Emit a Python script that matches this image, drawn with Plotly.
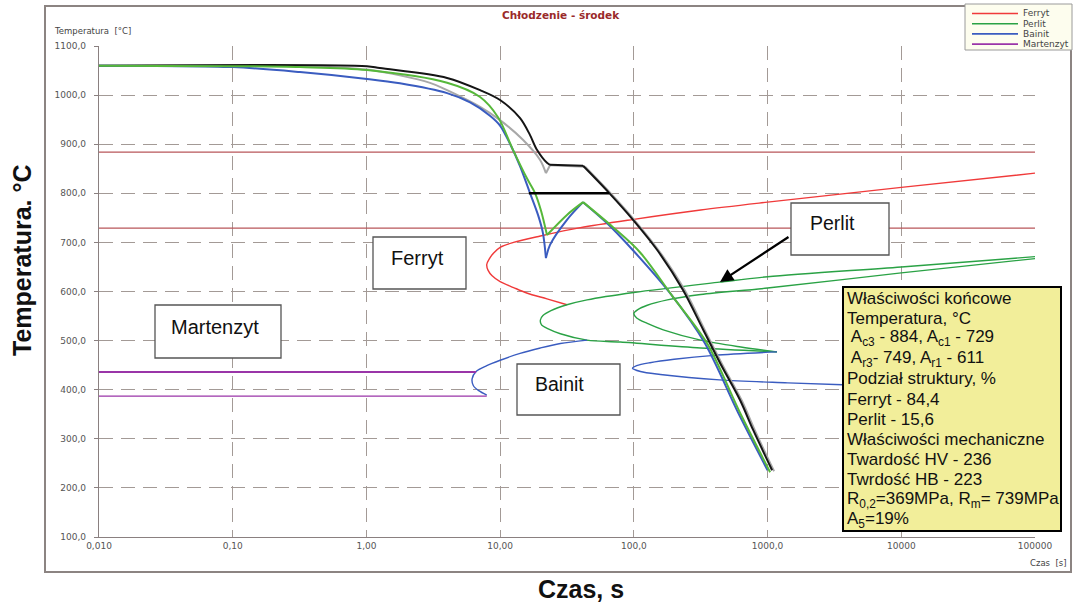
import plotly.graph_objects as go

# ---------------- data (time in s, temperature in deg C) ----------------
AC_LINES_T = [0.01, 100000]
AC3 = [884, 884]
AC1 = [729, 729]

FERRYT_T = [100000, 10000, 1000, 316, 100, 39.8, 20.0, 12.6, 10.0, 8.91, 8.32, 7.94, 8.13, 8.71, 10.0, 12.6, 15.8, 22.4, 31.6]
FERRYT_C = [841, 812, 782, 766, 747, 730, 713, 700, 690, 678, 667, 655, 643, 632, 620, 608, 597, 585, 573]

PERLIT_START_T = [100000, 10000, 1000, 437, 100, 44.7, 31.6, 24.0, 20.9, 20.0, 20.4, 22.9, 28.2, 44.7, 79.4, 316, 1175]
PERLIT_START_C = [671, 650, 630, 619, 598, 583, 573, 561, 551, 542, 532, 524, 514, 501, 497, 485, 477]

PERLIT_END_T = [100000, 10000, 1000, 316, 178, 126, 107, 100, 105, 126, 166, 316, 631, 1175]
PERLIT_END_C = [667, 638, 607, 594, 583, 572, 563, 555, 546, 535, 522, 501, 487, 477]

BAINIT1_T = [44.7, 28.2, 20.0, 14.1, 10.0, 7.94, 6.61, 6.17, 6.31, 6.92, 7.94]
BAINIT1_C = [501, 494, 485, 474, 460, 449, 437, 422, 408, 398, 389]

BAINIT2_T = [1175, 398, 200, 132, 105, 97.7, 112, 158, 437, 1413, 3631, 31600]
BAINIT2_C = [477, 470, 462, 455, 449, 444, 437, 431, 420, 414, 410, 403]

MS_T = [0.01, 6.61]
MS_C = [436, 436]
MF_T = [0.01, 7.94]
MF_C = [387, 387]

BLACK_T = [0.01, 1.01, 1.26, 4.01, 7.08, 9.98, 14.1, 16.7, 18.9, 22.4, 23.6, 41.7, 65.2, 98.6, 149, 233, 330, 442, 622, 780, 1081]
BLACK_C = [1060, 1059, 1055, 1035, 1010, 990, 953, 919, 888, 862, 858, 856, 801, 746, 685, 603, 522, 454, 379, 318, 236]

GRAY_T = [0.01, 0.318, 1.01, 2.99, 4.01, 7.08, 9.98, 14.8, 19.9, 22.0, 23.6, 43.2, 67.5, 102, 154, 242, 341, 457, 644, 807, 1119]
GRAY_C = [1060, 1059, 1052, 1025, 1010, 976, 949, 909, 868, 841, 857, 854, 799, 744, 683, 601, 520, 452, 377, 316, 234]

GREEN_T = [0.01, 0.1, 0.318, 1.01, 4.01, 7.08, 9.64, 12.5, 15.9, 18.2, 20.2, 22.4, 31.6, 41.7, 69.8, 111, 196, 352, 622, 1045]
GREEN_C = [1060, 1059, 1057, 1051, 1025, 996, 955, 888, 830, 801, 765, 715, 756, 782, 731, 680, 589, 495, 353, 232]

BLUE_T = [0.01, 0.1, 0.318, 1.01, 1.78, 4.01, 5.96, 8.39, 9.98, 11.9, 14.1, 16.7, 19.2, 20.9, 22.0, 23.6, 31.6, 41.7, 63.1, 97.7, 186, 339, 603, 1000]
BLUE_C = [1060, 1057, 1047, 1033, 1024, 1004, 985, 958, 938, 900, 855, 801, 756, 719, 668, 695, 746, 782, 739, 685, 597, 495, 353, 236]

BAR_T = [16.4, 65.2]
BAR_C = [800, 800]

X_TICKS = [0.01, 0.1, 1, 10, 100, 1000, 10000, 100000]
X_TICKTEXT = ["0,010", "0,10", "1,00", "10,00", "100,0", "1000,0", "10000", "100000"]
Y_TICKS = [100, 200, 300, 400, 500, 600, 700, 800, 900, 1000, 1100]
Y_TICKTEXT = ["100,0", "200,0", "300,0", "400,0", "500,0", "600,0", "700,0", "800,0", "900,0", "1000,0", "1100,0"]

LEGEND_NAMES = ["Ferryt", "Perlit", "Bainit", "Martenzyt"]
LEGEND_COLORS = ["#f03a3a", "#2aa245", "#3a5cc0", "#9a35a8"]

INFO_LINES = [
    "Właściwości końcowe",
    "Temperatura, °C",
    " A<sub>c3</sub> - 884, A<sub>c1</sub> - 729",
    " A<sub>r3</sub>- 749, A<sub>r1</sub> - 611",
    "Podział struktury, %",
    "Ferryt - 84,4",
    "Perlit - 15,6",
    "Właściwości mechaniczne",
    "Twardość HV - 236",
    "Twrdość HB - 223",
    "R<sub>0,2</sub>=369MPa, R<sub>m</sub>= 739MPa",
    "A<sub>5</sub>=19%",
]

# ---------------- layout geometry ----------------
W, H = 1073, 603
ML, MR, MT, MB = 99, 38, 46, 66
PW = W - ML - MR
PH = H - MT - MB
FONT = "Liberation Sans, Arial, sans-serif"
SMALL = "DejaVu Sans, Verdana, sans-serif"


def px(x):
    return (x - ML) / PW


def py(y):
    return (H - MB - y) / PH


fig = go.Figure()


def add_line(t, c, color, width, name, shape="linear"):
    fig.add_trace(go.Scatter(x=t, y=c, mode="lines", name=name, showlegend=False,
                             line=dict(color=color, width=width, shape=shape, smoothing=0.9),
                             hoverinfo="skip"))


def add_curve(t, c, color, width, name, breaks, linear_segments=()):
    """Draw a curve as smooth pieces split at kinks (indices in breaks)."""
    idx = [0] + list(breaks) + [len(t) - 1]
    for k in range(len(idx) - 1):
        a, b = idx[k], idx[k + 1]
        shape = "linear" if k in linear_segments else "spline"
        add_line(t[a:b + 1], c[a:b + 1], color, width, name, shape=shape)


AC_COLOR = "#b8565a"
add_line(AC_LINES_T, AC3, AC_COLOR, 1.2, "Ac3")
add_line(AC_LINES_T, AC1, AC_COLOR, 1.2, "Ac1")
add_line(FERRYT_T, FERRYT_C, LEGEND_COLORS[0], 1.4, "Ferryt", shape="spline")
add_line(PERLIT_START_T, PERLIT_START_C, LEGEND_COLORS[1], 1.4, "Perlit start", shape="spline")
add_line(PERLIT_END_T, PERLIT_END_C, LEGEND_COLORS[1], 1.4, "Perlit koniec", shape="spline")
add_line(BAINIT1_T, BAINIT1_C, LEGEND_COLORS[2], 1.4, "Bainit 1", shape="spline")
add_line(BAINIT2_T, BAINIT2_C, LEGEND_COLORS[2], 1.4, "Bainit 2", shape="spline")
add_line(MS_T, MS_C, LEGEND_COLORS[3], 2.2, "Ms")
add_line(MF_T, MF_C, LEGEND_COLORS[3], 1.3, "Mf")

add_curve(GRAY_T, GRAY_C, "#a8a8a8", 2.0, "Chłodzenie 2", breaks=[9, 10, 11], linear_segments=(1, 2))
add_curve(BLACK_T, BLACK_C, "#151515", 2.0, "Chłodzenie 1", breaks=[10, 11], linear_segments=(1,))
add_curve(BLUE_T, BLUE_C, "#3a5cc0", 2.0, "Chłodzenie 4", breaks=[14, 17], linear_segments=())
add_curve(GREEN_T, GREEN_C, "#56b83a", 2.0, "Chłodzenie 3", breaks=[11, 13], linear_segments=())
add_line(BAR_T, BAR_C, "#000000", 2.4, "Poziom 800")

shapes = []
annotations = []

# outer frame
shapes.append(dict(type="rect", xref="paper", yref="paper", x0=px(45), x1=px(1071), y0=py(572), y1=py(6),
                   line=dict(color="#8c8482", width=2), fillcolor="rgba(0,0,0,0)", layer="below"))

# label boxes
for (x0, y0, x1, y1, txt, cx, cy, fs) in [
    (373, 237, 466, 289, "Ferryt", 417, 258, 20),
    (155, 305, 281, 358, "Martenzyt", 215, 327, 20),
    (517, 364, 620, 415, "Bainit", 559, 384, 19.5),
    (791, 203, 889, 255, "Perlit", 832, 223, 19.5),
]:
    shapes.append(dict(type="rect", xref="paper", yref="paper", x0=px(x0), x1=px(x1), y0=py(y1), y1=py(y0),
                       line=dict(color="#555555", width=1.3), fillcolor="white", layer="above"))
    annotations.append(dict(x=px(cx), y=py(cy), xref="paper", yref="paper", text=txt, showarrow=False,
                            xanchor="center", yanchor="middle", font=dict(family=FONT, size=fs, color="#111")))

# arrow to perlite curve
annotations.append(dict(x=px(720), y=py(282), xref="paper", yref="paper", text="", showarrow=True,
                        ax=70, ay=-46, arrowhead=2, arrowsize=1.2, arrowwidth=2.2, arrowcolor="#000"))

# info box
shapes.append(dict(type="rect", xref="paper", yref="paper", x0=px(843), x1=px(1061), y0=py(531), y1=py(287),
                   line=dict(color="#000", width=2), fillcolor="#f2ee9a", layer="above"))
for i, line in enumerate(INFO_LINES):
    annotations.append(dict(x=px(845), y=py(298 + i * 20.2), xref="paper", yref="paper", text=line,
                            showarrow=False, xanchor="left", yanchor="middle",
                            font=dict(family=FONT, size=17, color="#111")))

# legend box (manual)
shapes.append(dict(type="rect", xref="paper", yref="paper", x0=px(965), x1=px(1072), y0=py(50), y1=py(4),
                   line=dict(color="#9a9a9a", width=1), fillcolor="#fdfdee", layer="above"))
for i, (nm, col) in enumerate(zip(LEGEND_NAMES, LEGEND_COLORS)):
    yy = 13.5 + i * 10.2
    shapes.append(dict(type="line", xref="paper", yref="paper", x0=px(972), x1=px(1018), y0=py(yy), y1=py(yy),
                       line=dict(color=col, width=1.6), layer="above"))
    annotations.append(dict(x=px(1021), y=py(yy), xref="paper", yref="paper", text=nm, showarrow=False,
                            xanchor="left", yanchor="middle", font=dict(family=SMALL, size=9, color="#444")))

# texts
annotations += [
    dict(x=px(561), y=py(15), xref="paper", yref="paper", text="<b>Chłodzenie - środek</b>", showarrow=False,
         xanchor="center", yanchor="middle", font=dict(family=SMALL, size=10.5, color="#9a2a2a")),
    dict(x=px(52), y=py(31), xref="paper", yref="paper", text="Temperatura  [°C]", showarrow=False,
         xanchor="left", yanchor="middle", font=dict(family=SMALL, size=8.5, color="#444")),
    dict(x=px(1069), y=py(563), xref="paper", yref="paper", text="Czas  [s]", showarrow=False,
         xanchor="right", yanchor="middle", font=dict(family=SMALL, size=8.5, color="#444")),
    dict(x=px(22), y=py(260), xref="paper", yref="paper", text="<b>Temperatura. °C</b>", showarrow=False,
         textangle=-90, xanchor="center", yanchor="middle", font=dict(family=FONT, size=25, color="#111")),
    dict(x=px(581), y=py(589), xref="paper", yref="paper", text="<b>Czas, s</b>", showarrow=False,
         xanchor="center", yanchor="middle", font=dict(family=FONT, size=25, color="#111")),
]

GRID = "#a39a96"
fig.update_layout(
    width=W, height=H,
    margin=dict(l=ML, r=MR, t=MT, b=MB, pad=0),
    paper_bgcolor="white", plot_bgcolor="white",
    showlegend=False,
    shapes=shapes, annotations=annotations,
    xaxis=dict(type="log", range=[-2, 5], tickvals=X_TICKS, ticktext=X_TICKTEXT,
               showgrid=True, gridcolor=GRID, gridwidth=1.2, griddash="14px,8px",
               showline=True, linecolor="#8a8080", linewidth=1.2, ticks="", zeroline=False,
               tickfont=dict(family=SMALL, size=9, color="#555")),
    yaxis=dict(range=[100, 1100], tickvals=Y_TICKS, ticktext=Y_TICKTEXT,
               showgrid=True, gridcolor=GRID, gridwidth=1.2, griddash="14px,8px",
               showline=True, linecolor="#8a8080", linewidth=1.2, ticks="outside", ticklen=4,
               ticklabelstandoff=6, tickcolor="#8a8080", zeroline=False,
               tickfont=dict(family=SMALL, size=9, color="#555")),
)

fig.write_html("out.html")
